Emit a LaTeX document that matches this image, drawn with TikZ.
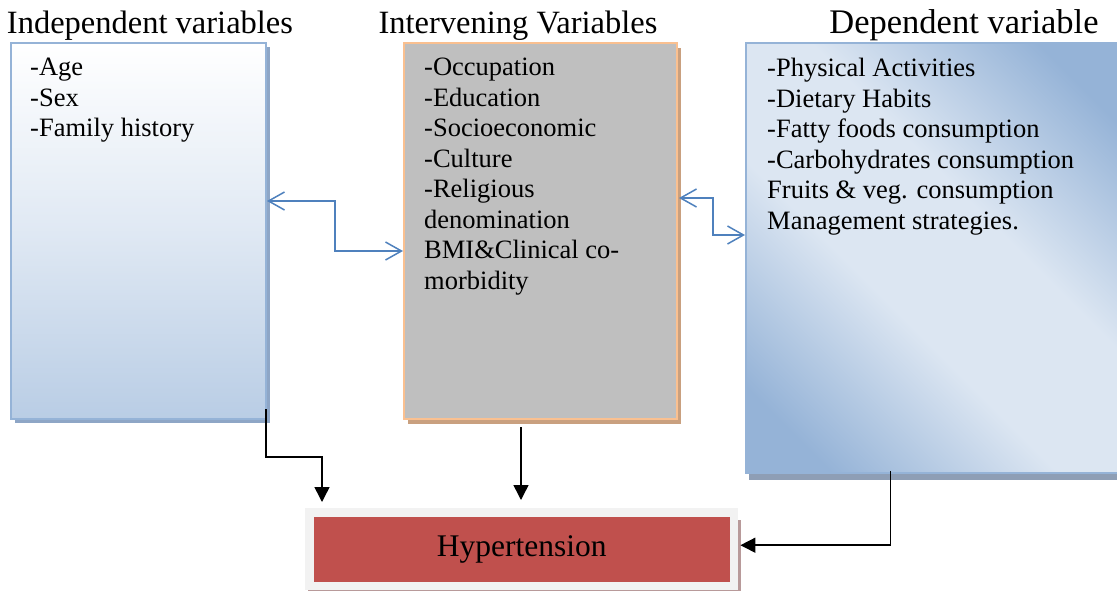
\documentclass[tikz,border=0pt]{standalone}
\usepackage{fontspec}
\setmainfont{Liberation Serif}
\usetikzlibrary{positioning}
\usetikzlibrary{shadows}
\usetikzlibrary{arrows.meta}

\definecolor{indepblue}{HTML}{B9CDE5}
\definecolor{indepline}{HTML}{95B3D7}
\definecolor{indepshadow}{HTML}{8EA6C6}
\definecolor{intervgray}{HTML}{BFBFBF}
\definecolor{intervline}{HTML}{FAC090}
\definecolor{intervshadow}{HTML}{C9A07F}
\definecolor{depdark}{HTML}{95B3D7}
\definecolor{deplight}{HTML}{DCE6F2}
\definecolor{depshadow}{HTML}{8E9EB5}
\definecolor{hyperred}{HTML}{C0504D}
\definecolor{framegray}{HTML}{F2F2F2}
\definecolor{frameshadow}{HTML}{B89A9A}
\definecolor{linkblue}{HTML}{4F81BD}

% broad light band across the dependent box
\pgfdeclareverticalshading{depshading}{100bp}{color(0bp)=(depdark); color(22bp)=(depdark);
  color(42bp)=(deplight); color(58bp)=(deplight); color(78bp)=(depdark); color(100bp)=(depdark)}

\tikzset{
  varbox/.style={rectangle, line width=2pt, anchor=north west, inner sep=0pt},
  boxtext/.style={inner sep=0pt, align=left, font=\fontsize{26.5}{30.5}\selectfont},
  heading/.style={anchor=base, inner sep=0pt, font=\fontsize{32.5}{38}\selectfont},
  link/.style={linkblue, line width=1.5pt,
    {Straight Barb[length=16pt,width=18pt]}-{Straight Barb[length=16pt,width=18pt]}},
  cause/.style={line width=1.5pt, -{Triangle[length=15pt,width=15pt]}}
}

\begin{document}
\begin{tikzpicture}[x=1pt, y=-1pt]
\useasboundingbox (0,0) rectangle (1117,590);

%headings
\node [heading] (indephead) at (150,33) {Independent variables};
\node [heading] (intervhead) at (518,33) {Intervening Variables};
\node [heading, font=\fontsize{34.5}{40}\selectfont] (dephead) at (964,33) {Dependent variable};

%variable boxes
\node [varbox, draw=indepline, top color=white, bottom color=indepblue,
  middle color=white!55!indepblue,
  minimum width=255pt, minimum height=376pt,
  drop shadow={fill=indepshadow, opacity=1, shadow xshift=4pt, shadow yshift=-4pt}]
  (indep) at (10,42) {};
\node [boxtext, below right=16pt and 20pt of indep.north west] (indeptext)
  {-Age\\-Sex\\-Family history};

\node [varbox, draw=intervline, fill=intervgray,
  minimum width=273pt, minimum height=376pt,
  drop shadow={fill=intervshadow, opacity=1, shadow xshift=4pt, shadow yshift=-5pt}]
  (interv) at (403,42) {};
\node [boxtext, below right=16pt and 21pt of interv.north west] (intervtext)
  {-Occupation\\-Education\\-Socioeconomic\\-Culture\\-Religious\\denomination\\BMI\&Clinical co-\\morbidity};

\node [varbox, draw=indepline, shading=depshading, shading angle=135,
  minimum width=378pt, minimum height=430pt,
  drop shadow={fill=depshadow, opacity=1, shadow xshift=3pt, shadow yshift=-7pt}]
  (dep) at (745,42) {};
\node [boxtext, below right=16pt and 22pt of dep.north west] (deptext)
  {-Physical Activities\\-Dietary Habits\\-Fatty foods consumption\\-Carbohydrates consumption\\Fruits \& veg. consumption\\Management strategies.};

%outcome
\node [rectangle, fill=framegray, anchor=north west, inner sep=0pt,
  minimum width=433pt, minimum height=82pt,
  drop shadow={fill=frameshadow, opacity=1, shadow xshift=2.5pt, shadow yshift=-12pt}]
  (hyperframe) at (305,508) {};
\node [rectangle, fill=hyperred, inner sep=0pt, minimum width=416pt, minimum height=65pt,
  font=\fontsize{31.5}{38}\selectfont] (hyper) at (hyperframe.center) {Hypertension};

%links between variables
\draw [link] ([yshift=30pt]indep.east) -- ++(68,0) |- ([yshift=-20pt]interv.west);
\draw [link] ([xshift=1pt,yshift=33pt]interv.east) -- ++(34,0) |- ([yshift=23pt]dep.west);

%effects on hypertension
\draw [cause, shorten >=6pt] ([xshift=-1pt,yshift=11pt]indep.south east) -- ++(0,48)
  -| ([xshift=17pt]hyperframe.north west);
\draw [cause, shorten >=8pt] ([xshift=-19.5pt,yshift=-7pt]interv.south)
  -- ([xshift=-19.5pt]interv.south |- hyperframe.north);
\draw [cause, shorten >=2pt] ([xshift=-44.5pt,yshift=3pt]dep.south)
  |- ([yshift=4pt]hyperframe.east);

\end{tikzpicture}
\end{document}
